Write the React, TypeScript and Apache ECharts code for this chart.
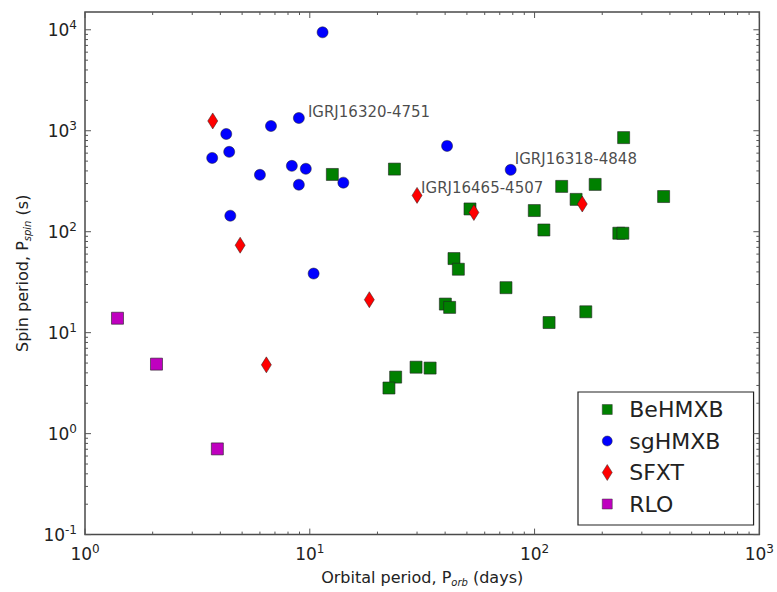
import React, { useEffect, useRef } from "react";
import * as echarts from "echarts";

const XMIN = 1;
const XMAX = 1000;
const YMIN = 0.1;
const YMAX = 15000;

const beHMXB: number[][] = [
  [12.6, 369], [23.8, 417], [249, 855], [132, 281], [186, 294], [153, 209],
  [375, 223], [51.6, 168], [99.7, 162], [110, 104], [237, 96.6], [247, 96.6],
  [43.8, 54.2], [45.8, 42.5], [74.6, 27.9], [40.1, 19.2], [41.9, 17.8],
  [169, 16.1], [116, 12.6], [29.7, 4.55], [34.3, 4.46], [24.1, 3.63], [22.5, 2.83],
];

const sgHMXB: number[][] = [
  [11.4, 9440], [8.94, 1337], [6.72, 1115], [4.25, 929], [3.68, 538], [4.38, 618],
  [6.0, 366], [8.32, 449], [9.6, 420], [8.94, 292], [14.1, 306], [4.43, 144],
  [10.4, 38.5], [40.8, 708], [78.3, 410],
];

const sfxt: number[][] = [
  [3.7, 1250], [4.9, 73.5], [30.0, 229], [53.7, 155], [163, 188], [18.4, 21.2], [6.41, 4.8],
];

const rlo: number[][] = [
  [1.395, 13.9], [2.08, 4.88], [3.88, 0.706],
];

const annotationNames = ["IGRJ16320-4751", "IGRJ16318-4848", "IGRJ16465-4507"];
const annotationPoints: number[][] = [[8.94, 1337], [78.3, 410], [30.0, 229]];
const annotationOffsets: number[][] = [[9, -6], [4, -11], [4, -7]];

const xMajor = [1, 10, 100, 1000];
const yMajor = [0.1, 1, 10, 100, 1000, 10000];

const FONT = "DejaVu Sans";

function minorTicks(lo: number, hi: number): number[] {
  const out: number[] = [];
  for (let d = lo; d < hi; d *= 10) {
    for (let k = 2; k <= 9; k++) {
      const v = Math.round(k * d * 1e6) / 1e6;
      if (v < hi) out.push(v);
    }
  }
  return out;
}

const xMinor = minorTicks(XMIN, XMAX);
const yMinor = minorTicks(YMIN, YMAX);

const MAJOR_LEN = 6;
const MINOR_LEN = 3;
const TICK_COLOR = "#555";

const ICON_SQUARE = "path://M0,0M16,16M3,3h10v10h-10z";
const ICON_CIRCLE = "path://M0,0M16,16M3,8a5,5 0 1,0 10,0a5,5 0 1,0 -10,0z";
const ICON_DIAMOND = "path://M0,0M16,16M8,0L13,8L8,16L3,8z";

function supLabel(v: number): string {
  const e = Math.log10(v);
  if (Math.abs(e - Math.round(e)) > 0.01) return "";
  return `{b|10}{sup|${Math.round(e)}}`;
}

export default function App() {
  const ref = useRef<HTMLDivElement>(null);

  useEffect(() => {
    if (!ref.current) return;
    const chart = echarts.init(ref.current, null, { renderer: "svg" });

    const xTickData = [
      ...xMajor.map((v) => [v, YMIN, MAJOR_LEN]),
      ...xMinor.map((v) => [v, YMIN, MINOR_LEN]),
    ];
    const yTickData = [
      ...yMajor.map((v) => [XMIN, v, MAJOR_LEN]),
      ...yMinor.map((v) => [XMIN, v, MINOR_LEN]),
    ];

    const lineStyle = { stroke: TICK_COLOR, lineWidth: 1 };

    const rich = {
      b: { fontSize: 17, fontFamily: FONT, color: "#222", lineHeight: 22, verticalAlign: "middle" as const },
      sup: { fontSize: 12, fontFamily: FONT, color: "#222", lineHeight: 10, verticalAlign: "top" as const },
    };

    const subRich = {
      sub: { fontSize: 10, fontFamily: FONT, color: "#222", fontStyle: "italic", lineHeight: 12, verticalAlign: "bottom" },
    };

    const option: any = {
      animation: false,
      backgroundColor: "#fff",
      textStyle: { fontFamily: FONT },
      grid: {
        left: 85, right: 14, top: 12, bottom: 55,
        show: true, borderColor: "#4a4a4a", borderWidth: 1.5, backgroundColor: "transparent",
      },
      xAxis: {
        type: "log", logBase: 10, min: XMIN, max: XMAX,
        axisLine: { show: false }, axisTick: { show: false }, splitLine: { show: false },
        axisLabel: { formatter: supLabel, rich, margin: 8 },
        name: "Orbital period, P{sub|orb} (days)",
        nameLocation: "middle", nameGap: 32,
        nameTextStyle: { fontSize: 16, fontFamily: FONT, color: "#222", rich: subRich, lineHeight: 20 },
      },
      yAxis: {
        type: "log", logBase: 10, min: YMIN, max: YMAX,
        axisLine: { show: false }, axisTick: { show: false }, splitLine: { show: false },
        axisLabel: { formatter: supLabel, rich, margin: 8, showMaxLabel: false },
        name: "Spin period, P{sub|spin} (s)",
        nameLocation: "middle", nameGap: 52, nameRotate: 90,
        nameTextStyle: { fontSize: 16, fontFamily: FONT, color: "#222", rich: subRich, lineHeight: 20 },
      },
      legend: {
        orient: "vertical",
        left: 578, top: 392,
        data: [
          { name: "BeHMXB", icon: ICON_SQUARE },
          { name: "sgHMXB", icon: ICON_CIRCLE },
          { name: "SFXT", icon: ICON_DIAMOND },
          { name: "RLO", icon: ICON_SQUARE },
        ],
        itemWidth: 16, itemHeight: 16, itemGap: 9.5,
        padding: [6.5, 30, 10, 21],
        borderColor: "#222", borderWidth: 1.2, borderRadius: 0,
        backgroundColor: "#fff",
        textStyle: { fontSize: 22, fontFamily: FONT, color: "#222", padding: [0, 0, 0, 9] },
        itemStyle: { borderColor: "#333", borderWidth: 0.5 },
      },
      series: [
        {
          type: "custom", name: "xticks", silent: true, z: 10,
          renderItem: (params: any, api: any) => {
            const v = api.value(0);
            const len = api.value(2);
            const b = api.coord([v, YMIN]);
            const t = api.coord([v, YMAX]);
            return {
              type: "group",
              children: [
                { type: "line", shape: { x1: b[0], y1: b[1], x2: b[0], y2: b[1] - len }, style: lineStyle },
                { type: "line", shape: { x1: t[0], y1: t[1], x2: t[0], y2: t[1] + len }, style: lineStyle },
              ],
            };
          },
          data: xTickData,
        },
        {
          type: "custom", name: "yticks", silent: true, z: 10,
          renderItem: (params: any, api: any) => {
            const v = api.value(1);
            const len = api.value(2);
            const l = api.coord([XMIN, v]);
            const r = api.coord([XMAX, v]);
            return {
              type: "group",
              children: [
                { type: "line", shape: { x1: l[0], y1: l[1], x2: l[0] + len, y2: l[1] }, style: lineStyle },
                { type: "line", shape: { x1: r[0], y1: r[1], x2: r[0] - len, y2: r[1] }, style: lineStyle },
              ],
            };
          },
          data: yTickData,
        },
        {
          type: "scatter", name: "BeHMXB", symbol: "rect", symbolSize: 12,
          itemStyle: { color: "#008000", borderColor: "#222", borderWidth: 0.6, opacity: 1 },
          data: beHMXB,
        },
        {
          type: "scatter", name: "sgHMXB", symbol: "circle", symbolSize: 11,
          itemStyle: { color: "#0000ff", borderColor: "#222", borderWidth: 0.5, opacity: 1 },
          data: sgHMXB,
        },
        {
          type: "scatter", name: "SFXT", symbol: "diamond", symbolSize: [10, 16],
          itemStyle: { color: "#ff0000", borderColor: "#222", borderWidth: 0.5, opacity: 1 },
          data: sfxt,
        },
        {
          type: "scatter", name: "RLO", symbol: "rect", symbolSize: 12,
          itemStyle: { color: "#bf00bf", borderColor: "#222", borderWidth: 0.6, opacity: 1 },
          data: rlo,
        },
        {
          type: "scatter", name: "annotations", symbol: "circle", symbolSize: 0.1,
          itemStyle: { color: "transparent", borderWidth: 0 }, silent: true, z: 20,
          data: annotationPoints.map((p, i) => ({
            value: p,
            label: {
              show: true, position: "right", distance: 0,
              offset: annotationOffsets[i],
              formatter: annotationNames[i],
              fontSize: 15, fontFamily: FONT, color: "#1a1a1a",
            },
          })),
        },
      ],
    };

    chart.setOption(option);
    return () => chart.dispose();
  }, []);

  return <div ref={ref} style={{ width: 777, height: 592, position: "absolute", left: 0, top: 0 }} />;
}
